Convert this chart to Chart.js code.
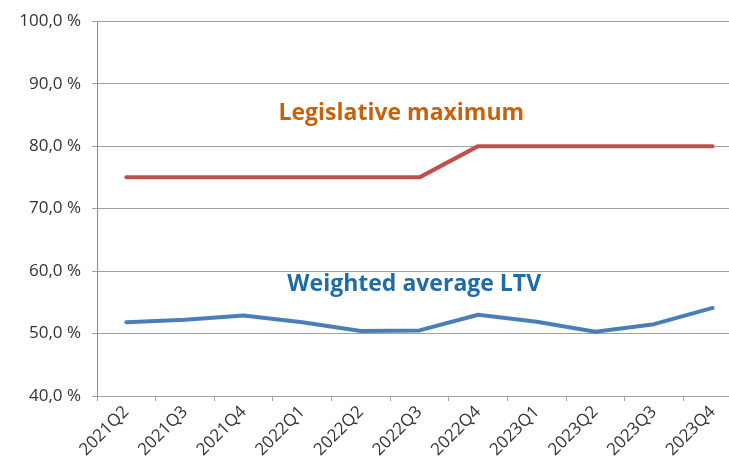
<!DOCTYPE html>
<html>
<head>
<meta charset="utf-8">
<script src="https://cdn.jsdelivr.net/npm/chart.js@4"></script>
<style>
  html, body { margin: 0; padding: 0; background: #fff; overflow: hidden; }
  #wrap { width: 742px; height: 467px; position: relative; }
</style>
</head>
<body>
<div id="wrap"><canvas id="c"></canvas></div>
<script>
const categories = ["2021Q2","2021Q3","2021Q4","2022Q1","2022Q2","2022Q3","2022Q4","2023Q1","2023Q2","2023Q3","2023Q4"];
const legislativeMaximum = [75, 75, 75, 75, 75, 75, 80, 80, 80, 80, 80];
const weightedAverageLTV = [51.8, 52.2, 52.9, 51.8, 50.4, 50.5, 53.0, 51.9, 50.3, 51.5, 54.1];
const yTicks = [40, 50, 60, 70, 80, 90, 100];

const seriesLabels = [
  { text: "Legislative maximum", color: "#C8620A", xIndex: 4.69, yValue: 85.2 },
  { text: "Weighted average LTV", color: "#1F6BA5", xIndex: 4.91, yValue: 57.8 }
];

const labelPlugin = {
  id: 'seriesLabels',
  afterDatasetsDraw(chart) {
    const ctx = chart.ctx;
    const xs = chart.scales.x, ys = chart.scales.y;
    ctx.save();
    ctx.font = "bold 23px 'Open Sans'";
    ctx.textAlign = 'center';
    ctx.textBaseline = 'middle';
    seriesLabels.forEach(l => {
      const x0 = xs.getPixelForValue(Math.floor(l.xIndex));
      const x1 = xs.getPixelForValue(Math.floor(l.xIndex) + 1);
      const x = x0 + (x1 - x0) * (l.xIndex - Math.floor(l.xIndex));
      ctx.fillStyle = l.color;
      ctx.fillText(l.text, x, ys.getPixelForValue(l.yValue));
    });
    ctx.restore();
  }
};

new Chart(document.getElementById('c'), {
  type: 'line',
  data: {
    labels: categories,
    datasets: [
      { label: 'Legislative maximum', data: legislativeMaximum, borderColor: '#C0504D', borderWidth: 4,
        pointRadius: 0, borderCapStyle: 'round', borderJoinStyle: 'round', tension: 0, fill: false },
      { label: 'Weighted average LTV', data: weightedAverageLTV, borderColor: '#4A7EBB', borderWidth: 4,
        pointRadius: 0, borderCapStyle: 'round', borderJoinStyle: 'round', tension: 0, fill: false }
    ]
  },
  options: {
    responsive: true,
    maintainAspectRatio: false,
    animation: false,
    layout: { padding: { top: 20, right: 0, left: 0, bottom: 0 } },
    plugins: { legend: { display: false }, tooltip: { enabled: false } },
    scales: {
      x: {
        offset: true,
        grid: { display: true, drawOnChartArea: false, drawTicks: true, tickLength: 5, offset: true, color: '#A0A0A0', lineWidth: 1 },
        border: { display: true, color: '#A0A0A0', width: 1 },
        ticks: { color: '#333', font: { family: "'Open Sans'", size: 17 }, maxRotation: 45, minRotation: 45, padding: 1, autoSkip: false },
        afterFit(s) { s.height = 71; }
      },
      y: {
        min: 40, max: 100,
        afterBuildTicks(s) { s.ticks = yTicks.map(v => ({ value: v })); },
        grid: { color: '#A0A0A0', lineWidth: 1, tickLength: 5, drawTicks: true },
        border: { display: true, color: '#8C8C8C', width: 1 },
        ticks: {
          color: '#333', font: { family: "'Open Sans'", size: 17 }, padding: 11,
          callback: v => v.toFixed(1).replace('.', ',') + ' %'
        },
        afterFit(s) { s.width = 97; }
      }
    }
  },
  plugins: [labelPlugin]
});
</script>
</body>
</html>
